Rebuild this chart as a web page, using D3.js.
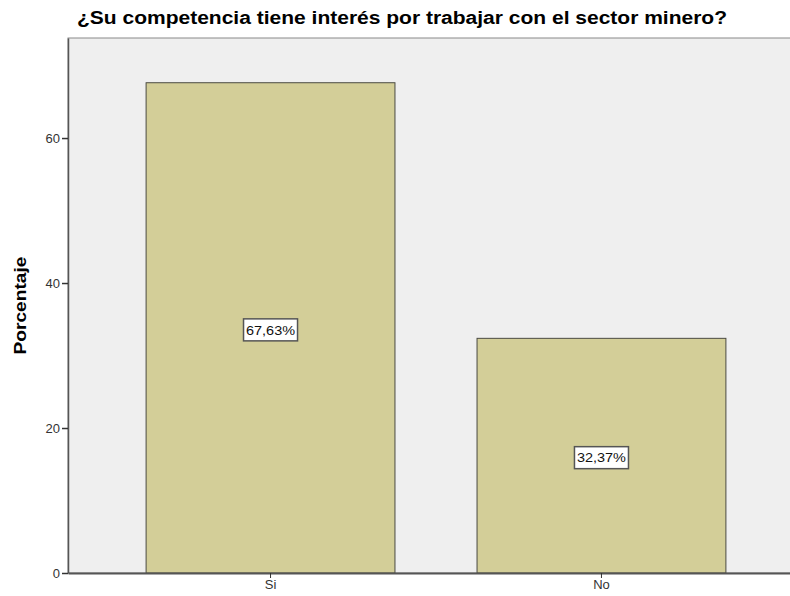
<!DOCTYPE html>
<html lang="es">
<head>
<meta charset="utf-8">
<title>¿Su competencia tiene interés por trabajar con el sector minero?</title>
<script src="https://cdnjs.cloudflare.com/ajax/libs/d3/7.8.5/d3.min.js"></script>
<style>
  body { margin: 0; background: #fff; }
  svg text { font-family: "Liberation Sans", Arial, sans-serif; }
</style>
</head>
<body>
<div id="chart"></div>
<script>
const categories = ["Si", "No"];
const percents = [67.63, 32.37];
const yTicks = [0, 20, 40, 60];
const title = "¿Su competencia tiene interés por trabajar con el sector minero?";

const width = 790, height = 596;
// plot area runs past the right edge of the window, as in the original
const plot = { left: 68, top: 38, right: 804, bottom: 573 };

const svg = d3.select("#chart").append("svg")
  .attr("width", width)
  .attr("height", height);

const x = d3.scaleBand()
  .domain(categories)
  .range([plot.left, plot.right])
  .paddingInner(0.248)
  .paddingOuter(0.236);

const y = d3.scaleLinear()
  .domain([0, 73.8])
  .range([plot.bottom, plot.top]);

// background of plot area
svg.append("rect")
  .attr("x", plot.left)
  .attr("y", plot.top)
  .attr("width", plot.right - plot.left)
  .attr("height", plot.bottom - plot.top)
  .attr("fill", "#efefef")
  .attr("stroke", "#8a8a8a")
  .attr("stroke-width", 1);

// bars
svg.selectAll("rect.bar")
  .data(percents)
  .enter()
  .append("rect")
  .attr("class", "bar")
  .attr("x", (d, i) => x(categories[i]))
  .attr("y", d => y(d))
  .attr("width", x.bandwidth())
  .attr("height", d => y(0) - y(d))
  .attr("fill", "#d3ce98")
  .attr("stroke", "#4a4a42")
  .attr("stroke-width", 1);

// value labels in boxes
const fmt = d => d.toFixed(2).replace(".", ",") + "%";
const labels = svg.selectAll("g.vlabel")
  .data(percents)
  .enter()
  .append("g")
  .attr("class", "vlabel")
  .attr("transform", (d, i) =>
    "translate(" + (x(categories[i]) + x.bandwidth() / 2) + "," + ((y(d) + y(0)) / 2 + 2) + ")");

labels.append("rect")
  .attr("x", -27)
  .attr("y", -11)
  .attr("width", 54)
  .attr("height", 22)
  .attr("fill", "#fff")
  .attr("stroke", "#555")
  .attr("stroke-width", 1.5);

labels.append("text")
  .attr("text-anchor", "middle")
  .attr("dy", "0.36em")
  .attr("font-size", "13px")
  .attr("textLength", 49)
  .attr("lengthAdjust", "spacingAndGlyphs")
  .attr("fill", "#111")
  .text(d => fmt(d));

// y axis
const yAxis = svg.append("g")
  .attr("transform", "translate(" + plot.left + ",0)")
  .call(d3.axisLeft(y).tickValues(yTicks).tickSize(6).tickSizeOuter(0));
yAxis.select(".domain").attr("stroke", "#555").attr("stroke-width", 1.5);
yAxis.selectAll(".tick line").attr("stroke", "#333").attr("stroke-width", 1.5);
yAxis.selectAll(".tick text")
  .attr("font-size", "13px")
  .attr("fill", "#333")
  .attr("x", -8);

// x axis
const xAxis = svg.append("g")
  .attr("transform", "translate(0," + plot.bottom + ")")
  .call(d3.axisBottom(x).tickSize(5).tickSizeOuter(0));
xAxis.select(".domain").attr("stroke", "#555").attr("stroke-width", 2);
xAxis.selectAll(".tick line").attr("stroke", "#333");
xAxis.selectAll(".tick text")
  .attr("font-size", "13px")
  .attr("fill", "#333")
  .attr("y", 7);

// y axis title
svg.append("text")
  .attr("transform", "translate(26," + ((plot.top + plot.bottom) / 2) + ") rotate(-90)")
  .attr("text-anchor", "middle")
  .attr("font-size", "17px")
  .attr("font-weight", "bold")
  .attr("textLength", 98)
  .attr("lengthAdjust", "spacingAndGlyphs")
  .attr("fill", "#000")
  .text("Porcentaje");

// chart title
svg.append("text")
  .attr("x", 77)
  .attr("y", 24)
  .attr("font-size", "18px")
  .attr("font-weight", "bold")
  .attr("textLength", 650)
  .attr("lengthAdjust", "spacingAndGlyphs")
  .attr("fill", "#000")
  .text(title);
</script>
</body>
</html>
